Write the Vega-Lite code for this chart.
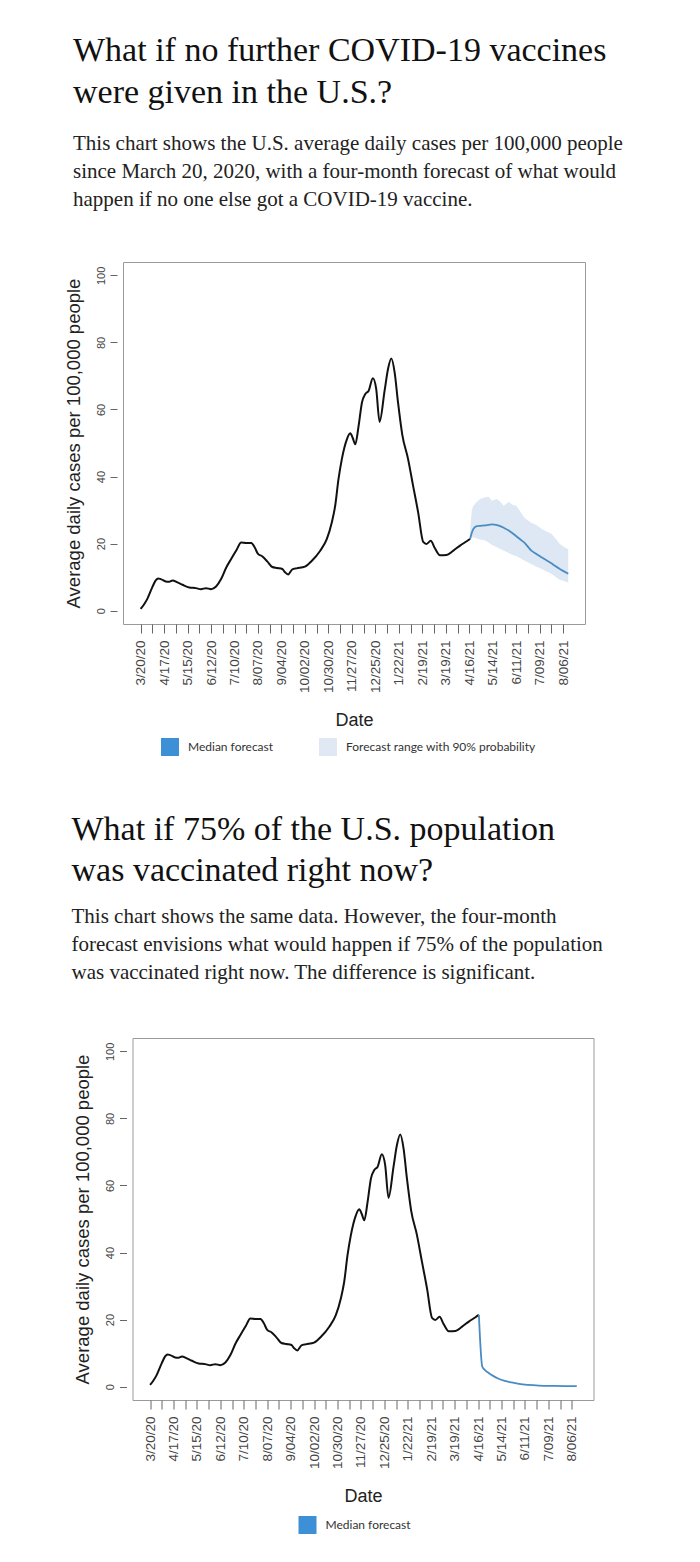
{
  "$schema": "https://vega.github.io/schema/vega-lite/v6.json",
  "background": "white",
  "padding": {"left": 63, "top": 33, "right": 10, "bottom": 10},
  "config": {
    "view": {"stroke": "#9a9a9a", "strokeWidth": 1},
    "axis": {"labelFont": "Liberation Sans", "titleFont": "Liberation Sans", "titleFontWeight": "normal", "grid": false, "domain": false, "tickColor": "#666", "labelColor": "#444", "titleColor": "#222"}
  },
  "resolve": {"scale": {"color": "independent"}, "legend": {"color": "independent"}},
  "datasets": {
    "obs": [
      {"date": "2020-03-20", "cases": 0.5}, {"date": "2020-03-24", "cases": 1.8}, {"date": "2020-03-28", "cases": 3.5},
      {"date": "2020-04-03", "cases": 7.0}, {"date": "2020-04-07", "cases": 9.0}, {"date": "2020-04-10", "cases": 9.6},
      {"date": "2020-04-13", "cases": 9.4}, {"date": "2020-04-19", "cases": 8.7}, {"date": "2020-04-23", "cases": 8.6},
      {"date": "2020-04-27", "cases": 9.0}, {"date": "2020-05-03", "cases": 8.4}, {"date": "2020-05-09", "cases": 7.7},
      {"date": "2020-05-17", "cases": 6.9}, {"date": "2020-05-25", "cases": 6.7}, {"date": "2020-05-31", "cases": 6.4},
      {"date": "2020-06-06", "cases": 6.7}, {"date": "2020-06-12", "cases": 6.4}, {"date": "2020-06-18", "cases": 7.2},
      {"date": "2020-06-24", "cases": 9.4}, {"date": "2020-06-30", "cases": 12.8}, {"date": "2020-07-06", "cases": 15.4},
      {"date": "2020-07-12", "cases": 17.9}, {"date": "2020-07-18", "cases": 20.3}, {"date": "2020-07-24", "cases": 20.2},
      {"date": "2020-07-30", "cases": 20.2}, {"date": "2020-08-03", "cases": 18.9}, {"date": "2020-08-07", "cases": 16.9},
      {"date": "2020-08-12", "cases": 16.2}, {"date": "2020-08-18", "cases": 14.7}, {"date": "2020-08-24", "cases": 13.0},
      {"date": "2020-08-30", "cases": 12.7}, {"date": "2020-09-05", "cases": 12.4}, {"date": "2020-09-08", "cases": 11.5},
      {"date": "2020-09-12", "cases": 10.8}, {"date": "2020-09-17", "cases": 12.3}, {"date": "2020-09-22", "cases": 12.6},
      {"date": "2020-10-02", "cases": 13.1}, {"date": "2020-10-10", "cases": 14.8}, {"date": "2020-10-20", "cases": 17.8},
      {"date": "2020-10-28", "cases": 21.3}, {"date": "2020-11-03", "cases": 26.3}, {"date": "2020-11-07", "cases": 31.2},
      {"date": "2020-11-11", "cases": 39.2}, {"date": "2020-11-15", "cases": 45.2}, {"date": "2020-11-21", "cases": 51.1},
      {"date": "2020-11-25", "cases": 52.9}, {"date": "2020-11-28", "cases": 51.5}, {"date": "2020-12-01", "cases": 49.6},
      {"date": "2020-12-05", "cases": 55.1}, {"date": "2020-12-09", "cases": 62.1}, {"date": "2020-12-13", "cases": 64.6},
      {"date": "2020-12-17", "cases": 65.6}, {"date": "2020-12-22", "cases": 69.3}, {"date": "2020-12-26", "cases": 66.1},
      {"date": "2020-12-30", "cases": 56.3}, {"date": "2021-01-05", "cases": 65.6}, {"date": "2021-01-09", "cases": 72.0},
      {"date": "2021-01-13", "cases": 75.2}, {"date": "2021-01-17", "cases": 71.0}, {"date": "2021-01-21", "cases": 62.1},
      {"date": "2021-01-26", "cases": 52.6}, {"date": "2021-02-02", "cases": 45.2}, {"date": "2021-02-08", "cases": 37.2},
      {"date": "2021-02-14", "cases": 29.3}, {"date": "2021-02-20", "cases": 20.5}, {"date": "2021-02-24", "cases": 19.9},
      {"date": "2021-03-01", "cases": 20.8}, {"date": "2021-03-06", "cases": 18.6}, {"date": "2021-03-12", "cases": 16.5},
      {"date": "2021-03-20", "cases": 16.6}, {"date": "2021-03-28", "cases": 17.9}, {"date": "2021-04-05", "cases": 19.4},
      {"date": "2021-04-13", "cases": 20.7}, {"date": "2021-04-17", "cases": 21.4}
    ],
    "fc1": [
      {"date": "2021-04-17", "median": 21.4, "lo": 21.2, "hi": 24.0},
      {"date": "2021-04-19", "median": 23.2, "lo": 21.8, "hi": 30.0},
      {"date": "2021-04-21", "median": 24.4, "lo": 21.9, "hi": 31.3},
      {"date": "2021-04-25", "median": 25.2, "lo": 21.5, "hi": 32.5},
      {"date": "2021-04-29", "median": 25.3, "lo": 21.2, "hi": 33.3},
      {"date": "2021-05-05", "median": 25.4, "lo": 20.9, "hi": 33.8},
      {"date": "2021-05-09", "median": 25.6, "lo": 20.3, "hi": 34.0},
      {"date": "2021-05-13", "median": 25.7, "lo": 19.6, "hi": 32.8},
      {"date": "2021-05-19", "median": 25.5, "lo": 18.9, "hi": 33.3},
      {"date": "2021-05-23", "median": 25.2, "lo": 18.4, "hi": 32.5},
      {"date": "2021-05-27", "median": 24.7, "lo": 17.9, "hi": 31.3},
      {"date": "2021-06-02", "median": 23.9, "lo": 17.2, "hi": 32.4},
      {"date": "2021-06-07", "median": 23.0, "lo": 16.6, "hi": 31.5},
      {"date": "2021-06-11", "median": 22.2, "lo": 16.2, "hi": 31.3},
      {"date": "2021-06-16", "median": 21.2, "lo": 15.6, "hi": 29.5},
      {"date": "2021-06-21", "median": 20.2, "lo": 14.9, "hi": 27.6},
      {"date": "2021-06-29", "median": 17.9, "lo": 13.9, "hi": 26.2},
      {"date": "2021-07-05", "median": 16.9, "lo": 13.1, "hi": 25.5},
      {"date": "2021-07-11", "median": 15.9, "lo": 12.5, "hi": 24.4},
      {"date": "2021-07-17", "median": 15.0, "lo": 11.7, "hi": 23.6},
      {"date": "2021-07-23", "median": 14.1, "lo": 11.0, "hi": 22.9},
      {"date": "2021-07-28", "median": 13.2, "lo": 10.0, "hi": 21.4},
      {"date": "2021-08-02", "median": 12.4, "lo": 9.2, "hi": 19.9},
      {"date": "2021-08-07", "median": 11.7, "lo": 8.8, "hi": 19.0},
      {"date": "2021-08-12", "median": 11.0, "lo": 8.3, "hi": 18.3}
    ],
    "fc2": [
      {"date": "2021-04-17", "median": 21.4}, {"date": "2021-04-21", "median": 6.0}, {"date": "2021-04-24", "median": 5.0},
      {"date": "2021-04-28", "median": 4.2}, {"date": "2021-05-04", "median": 3.2}, {"date": "2021-05-10", "median": 2.4},
      {"date": "2021-05-18", "median": 1.7}, {"date": "2021-05-26", "median": 1.25}, {"date": "2021-06-04", "median": 0.8},
      {"date": "2021-06-15", "median": 0.5}, {"date": "2021-06-28", "median": 0.3}, {"date": "2021-07-13", "median": 0.2},
      {"date": "2021-07-28", "median": 0.15}, {"date": "2021-08-12", "median": 0.12}
    ]
  },
  "vconcat": [
    {
      "width": 462,
      "height": 362,
      "title": {
        "text": ["What if no further COVID-19 vaccines", "were given in the U.S.?"],
        "subtitle": ["This chart shows the U.S. average daily cases per 100,000 people", "since March 20, 2020, with a four-month forecast of what would", "happen if no one else got a COVID-19 vaccine."],
        "anchor": "start", "frame": "group", "dx": -50,
        "font": "Liberation Serif", "fontSize": 34, "fontWeight": "normal", "lineHeight": 42, "color": "#111",
        "subtitleFont": "Liberation Serif", "subtitleFontSize": 21, "subtitleLineHeight": 28, "subtitleColor": "#222",
        "subtitlePadding": 23, "offset": 52
      },
      "encoding": {
        "x": {"field": "date", "type": "temporal", "title": "Date", "scale": {"type": "utc", "domain": [1582848000000, 1630454400000]},
          "axis": {"titleFontSize": 18, "titlePadding": 19, "values": [1584662400000, 1585872000000, 1587081600000, 1588291200000, 1589500800000, 1590710400000, 1591920000000, 1593129600000, 1594339200000, 1595548800000, 1596758400000, 1597968000000, 1599177600000, 1600387200000, 1601596800000, 1602806400000, 1604016000000, 1605225600000, 1606435200000, 1607644800000, 1608854400000, 1610064000000, 1611273600000, 1612483200000, 1613692800000, 1614902400000, 1616112000000, 1617321600000, 1618531200000, 1619740800000, 1620950400000, 1622160000000, 1623369600000, 1624579200000, 1625788800000, 1626998400000, 1628208000000],
            "labelExpr": "round((datum.value - 1584662400000) / 86400000) % 28 == 0 ? utcFormat(datum.value, '%-m/%d/%y') : ''",
            "labelOverlap": false, "labelBound": false, "labelSeparation": 0, "labelAngle": 270, "labelFontSize": 13.5, "tickSize": 9, "labelPadding": 7, "offset": 0}}
      },
      "layer": [
        {
          "data": {"name": "fc1"},
          "mark": {"type": "area", "color": "#dde8f4", "interpolate": "linear"},
          "encoding": {
            "y": {"field": "lo", "type": "quantitative", "title": "Average daily cases per 100,000 people", "scale": {"domain": [-4, 104], "nice": false, "zero": false},
              "axis": {"titleFontSize": 18.5, "titlePadding": 12, "values": [0, 20, 40, 60, 80, 100], "labelAngle": 270, "labelFontSize": 11, "tickSize": 7, "offset": 6, "labelPadding": 4}},
            "y2": {"field": "hi"}
          }
        },
        {
          "data": {"name": "obs"},
          "mark": {"type": "line", "color": "#111", "strokeWidth": 2, "interpolate": "monotone"},
          "encoding": {
            "y": {"field": "cases", "type": "quantitative", "title": "Average daily cases per 100,000 people", "scale": {"domain": [-4, 104], "nice": false, "zero": false}}
          }
        },
        {
          "data": {"name": "fc1"},
          "mark": {"type": "line", "color": "#4a8bc2", "strokeWidth": 1.8, "interpolate": "monotone"},
          "encoding": {
            "y": {"field": "median", "type": "quantitative", "title": "Average daily cases per 100,000 people", "scale": {"domain": [-4, 104], "nice": false, "zero": false}}
          }
        },
        {
          "data": {"name": "fc1"},
          "transform": [{"fold": ["median", "hi"], "as": ["key", "value"]}],
          "mark": {"type": "square", "opacity": 0},
          "encoding": {
            "y": {"field": "value", "type": "quantitative", "title": "Average daily cases per 100,000 people", "scale": {"domain": [-4, 104], "nice": false, "zero": false}},
            "color": {"field": "key", "type": "nominal", "scale": {"domain": ["median", "hi"], "range": ["#3d8fd6", "#dfe8f3"]},
              "legend": {"orient": "none", "legendX": 38, "legendY": 476, "direction": "horizontal", "title": null, "symbolType": "square", "symbolSize": 324, "symbolOpacity": 1, "symbolStrokeWidth": 0, "labelFont": "Lato", "labelFontSize": 12, "labelColor": "#333", "labelOffset": 9, "columnPadding": 45, "labelLimit": 300, "padding": 0,
                "labelExpr": "datum.label == 'median' ? 'Median forecast' : 'Forecast range with 90% probability'"}}
          }
        }
      ]
    },
    {
      "resolve": {"scale": {"color": "independent"}, "legend": {"color": "independent"}},
      "hconcat": [
        {
          "width": 1,
          "height": 1,
          "view": {"stroke": null},
          "data": {"values": []},
          "mark": "point"
        },
        {
          "width": 461,
          "height": 362,
          "title": {
            "text": ["What if 75% of the U.S. population", "was vaccinated right now?"],
            "subtitle": ["This chart shows the same data. However, the four-month", "forecast envisions what would happen if 75% of the population", "was vaccinated right now. The difference is significant."],
            "anchor": "start", "frame": "group", "dx": -61,
            "font": "Liberation Serif", "fontSize": 34, "fontWeight": "normal", "lineHeight": 41, "color": "#111",
            "subtitleFont": "Liberation Serif", "subtitleFontSize": 21, "subtitleLineHeight": 28, "subtitleColor": "#222",
            "subtitlePadding": 18, "offset": 55
          },
          "encoding": {
            "x": {"field": "date", "type": "temporal", "title": "Date", "scale": {"type": "utc", "domain": [1582848000000, 1630454400000]},
              "axis": {"titleFontSize": 18, "titlePadding": 19, "values": [1584662400000, 1585872000000, 1587081600000, 1588291200000, 1589500800000, 1590710400000, 1591920000000, 1593129600000, 1594339200000, 1595548800000, 1596758400000, 1597968000000, 1599177600000, 1600387200000, 1601596800000, 1602806400000, 1604016000000, 1605225600000, 1606435200000, 1607644800000, 1608854400000, 1610064000000, 1611273600000, 1612483200000, 1613692800000, 1614902400000, 1616112000000, 1617321600000, 1618531200000, 1619740800000, 1620950400000, 1622160000000, 1623369600000, 1624579200000, 1625788800000, 1626998400000, 1628208000000],
                "labelExpr": "round((datum.value - 1584662400000) / 86400000) % 28 == 0 ? utcFormat(datum.value, '%-m/%d/%y') : ''",
                "labelOverlap": false, "labelBound": false, "labelSeparation": 0, "labelAngle": 270, "labelFontSize": 13.5, "tickSize": 9, "labelPadding": 7, "offset": 0}}
          },
          "layer": [
            {
              "data": {"name": "obs"},
              "mark": {"type": "line", "color": "#111", "strokeWidth": 2, "interpolate": "monotone"},
              "encoding": {
                "y": {"field": "cases", "type": "quantitative", "title": "Average daily cases per 100,000 people", "scale": {"domain": [-4, 104], "nice": false, "zero": false},
                  "axis": {"titleFontSize": 18.5, "titlePadding": 12, "values": [0, 20, 40, 60, 80, 100], "labelAngle": 270, "labelFontSize": 11, "tickSize": 7, "offset": 6, "labelPadding": 4}}
              }
            },
            {
              "data": {"name": "fc2"},
              "mark": {"type": "line", "color": "#4a8bc2", "strokeWidth": 1.8, "interpolate": "monotone"},
              "encoding": {
                "y": {"field": "median", "type": "quantitative", "title": "Average daily cases per 100,000 people", "scale": {"domain": [-4, 104], "nice": false, "zero": false}}
              }
            },
            {
              "data": {"name": "fc2"},
              "transform": [{"fold": ["median"], "as": ["key", "value"]}],
              "mark": {"type": "square", "opacity": 0},
              "encoding": {
                "y": {"field": "value", "type": "quantitative", "title": "Average daily cases per 100,000 people", "scale": {"domain": [-4, 104], "nice": false, "zero": false}},
                "color": {"field": "key", "type": "nominal", "scale": {"domain": ["median"], "range": ["#3d8fd6"]},
                  "legend": {"orient": "none", "legendX": 166, "legendY": 478, "direction": "horizontal", "title": null, "symbolType": "square", "symbolSize": 324, "symbolOpacity": 1, "symbolStrokeWidth": 0, "labelFont": "Lato", "labelFontSize": 12, "labelColor": "#333", "labelOffset": 9, "labelLimit": 300, "padding": 0,
                    "labelExpr": "'Median forecast'"}}
              }
            }
          ]
        }
      ],
      "spacing": 8.5,
      "bounds": "flush"
    }
  ],
  "spacing": 55
}
